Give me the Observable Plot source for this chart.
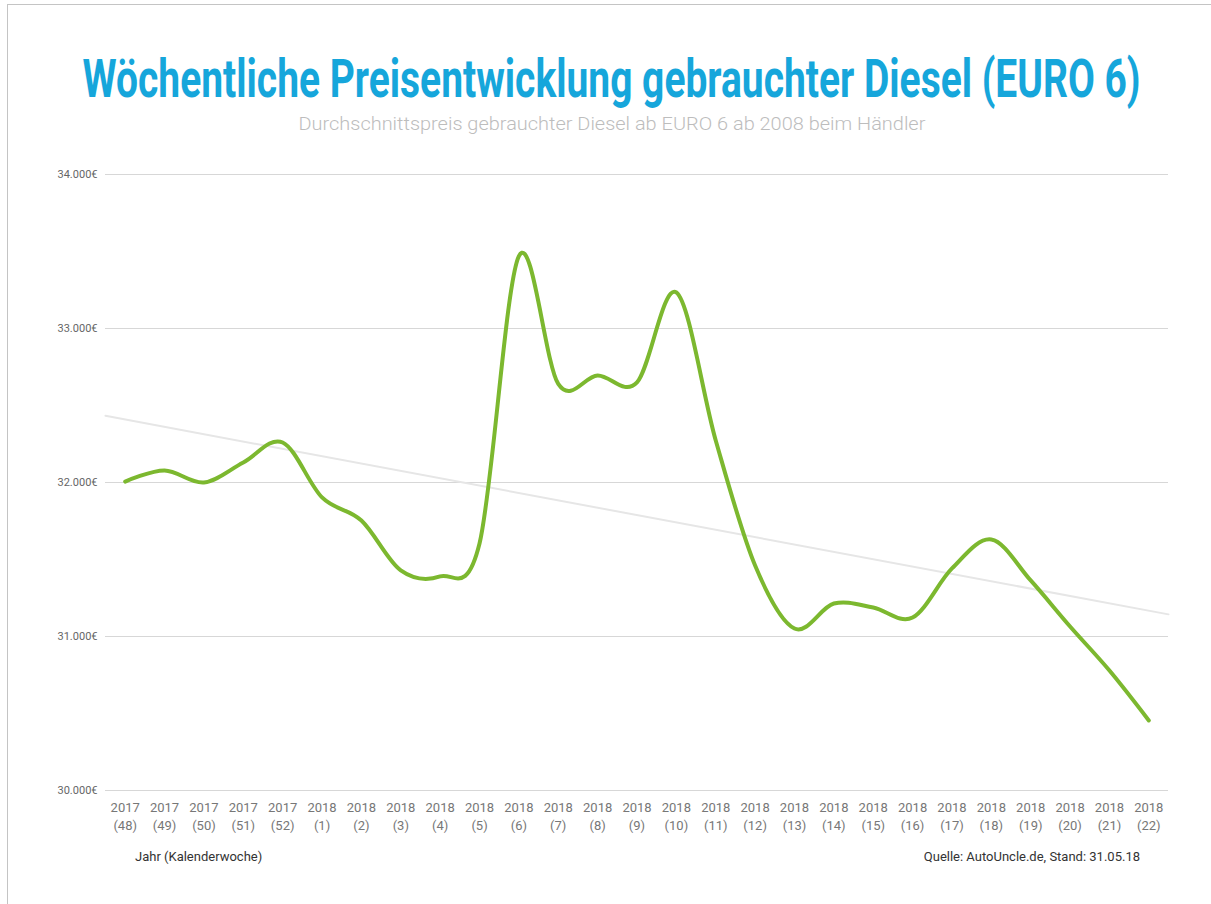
<!DOCTYPE html>
<html><head><meta charset="utf-8">
<script src="https://cdn.jsdelivr.net/npm/d3@7"></script>
<script src="https://cdn.jsdelivr.net/npm/@observablehq/plot@0.6"></script>
<style>
body{margin:0;background:#fff;font-family:Roboto,sans-serif;width:1211px;height:904px;overflow:hidden;position:relative;}
#frame{position:absolute;left:7px;top:4px;width:1300px;height:1000px;border-left:1px solid #c4c4c4;border-top:1px solid #c4c4c4;}
.center{position:absolute;left:-994px;width:3211px;text-align:center;white-space:nowrap;}
.center span{display:inline-block;transform-origin:50% 50%;}
#title{top:53px;font-size:53px;line-height:53px;font-weight:700;color:#16a6db;}
#subtitle{top:115px;font-size:18px;line-height:18px;font-weight:300;color:#bdbdbd;}
#chart{position:absolute;left:0;top:150px;}
.foot{position:absolute;top:850px;font-size:13px;line-height:13px;color:#333;white-space:nowrap;}
</style>
</head><body>
<div id="frame"></div>
<div class="center" id="title"><span data-w="1058">Wöchentliche Preisentwicklung gebrauchter Diesel (EURO 6)</span></div>
<div class="center" id="subtitle"><span data-w="627">Durchschnittspreis gebrauchter Diesel ab EURO 6 ab 2008 beim Händler</span></div>
<div id="chart"></div>
<div class="foot" style="left:135px;">Jahr (Kalenderwoche)</div>
<div class="foot" style="right:71px;">Quelle: AutoUncle.de, Stand: 31.05.18</div>
<script>
const years = [2017,2017,2017,2017,2017,2018,2018,2018,2018,2018,2018,2018,2018,2018,2018,2018,2018,2018,2018,2018,2018,2018,2018,2018,2018,2018,2018];
const weeks = [48,49,50,51,52,1,2,3,4,5,6,7,8,9,10,11,12,13,14,15,16,17,18,19,20,21,22];
const prices = [32006,32078,32000,32130,32260,31903,31753,31429,31390,31604,33470,32640,32695,32650,33234,32273,31461,31052,31214,31188,31123,31442,31630,31364,31065,30779,30455];
const yTicks = [30000,31000,32000,33000,34000];

const data = prices.map((p, i) => ({i, price: p}));
// linear regression (trend line) over the week index
const mx = d3.mean(data, d => d.i), my = d3.mean(data, d => d.price);
const slope = d3.sum(data, d => (d.i - mx) * (d.price - my)) / d3.sum(data, d => (d.i - mx) ** 2);
const intercept = my - slope * mx;
const xDomain = [-0.5, prices.length - 0.5];
const trend = xDomain.map(x => ({x, y: intercept + slope * x}));

const de = d3.formatLocale({decimal: ",", thousands: ".", grouping: [3], currency: ["", "€"]});
const fmt = de.format("$,");

const chart = Plot.plot({
  width: 1211, height: 690,
  marginLeft: 105, marginRight: 43, marginTop: 24, marginBottom: 50,
  style: {fontFamily: "Roboto, sans-serif", background: "transparent", overflow: "visible"},
  x: {domain: xDomain, axis: null},
  y: {domain: [30000, 34000], axis: null},
  marks: [
    Plot.gridY(yTicks, {stroke: "#d7d7d7", strokeOpacity: 1, strokeWidth: 1}),
    Plot.axisY(yTicks, {tickSize: 0, tickPadding: 8, tickFormat: fmt, fontSize: 11, fill: "#666"}),
    Plot.axisX(d3.range(prices.length), {tickSize: 0, tickPadding: 9, tickFormat: i => `${years[i]}\n(${weeks[i]})`, fontSize: 13, lineHeight: 1.385, fill: "#777"}),
    Plot.line(trend, {x: "x", y: "y", stroke: "#e6e6e6", strokeWidth: 2}),
    Plot.line(data, {x: "i", y: "price", stroke: "#7cb82f", strokeWidth: 4, curve: "cardinal"})
  ]
});
document.getElementById("chart").append(chart);

document.querySelectorAll(".center span").forEach(s => {
  const w = s.offsetWidth;
  s.style.transform = `scaleX(${(+s.dataset.w / w).toFixed(4)})`;
});
</script>
</body></html>
